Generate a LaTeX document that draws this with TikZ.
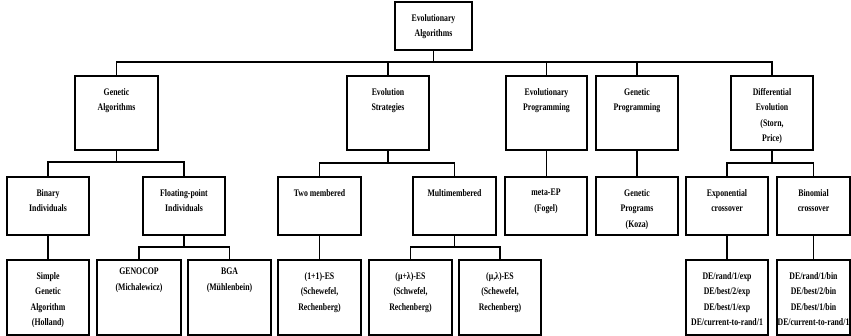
\documentclass[tikz,border=0pt]{standalone}
\usepackage{fontspec}
\setmainfont{Liberation Serif}[FakeStretch=0.78]
\usetikzlibrary{positioning,calc}
\tikzset{
  boxnode/.style={draw, line width=1.5pt, rectangle, inner sep=0pt, outer sep=0pt},
  txtnode/.style={anchor=north, inner sep=0pt, align=center, font=\fontsize{10}{15.5}\selectfont\bfseries},
  conn/.style={line width=1.5pt}
}
% #1 name, #2 x1, #3 y1, #4 x2, #5 y2, #6 text options, #7 text
\newcommand\mkbox[7]{%
  \node[boxnode, minimum width={#4-#2}, minimum height={#5-#3}] (#1) at ({(#2+#4)/2},{(#3+#5)/2}) {};
  \node[txtnode,#6] (#1-t) at ($(#1.north)+(0,12)$) {#7};
}
\begin{document}
\begin{tikzpicture}[x=1pt,y=-1pt]
\useasboundingbox (0,0) rectangle (851,336);
\fill[white] (0,0) rectangle (851,336);
% top
\mkbox{top}{395}{2}{472}{50}{}{Evolutionary\\Algorithms}
% level 2
\mkbox{ga}{75}{76}{158}{150}{}{Genetic\\Algorithms}
\mkbox{es}{347}{76}{429}{150}{}{Evolution\\Strategies}
\mkbox{ep}{506}{76}{587}{150}{}{Evolutionary\\Programming}
\mkbox{gp}{596}{76}{678}{150}{}{Genetic\\Programming}
\mkbox{de}{731}{76}{813}{150}{}{Differential\\Evolution\\(Storn,\\Price)}
% level 3
\mkbox{bin}{7}{177}{89}{235}{}{Binary\\Individuals}
\mkbox{flt}{143}{177}{225}{235}{}{Floating-point\\Individuals}
\mkbox{two}{278}{177}{361}{235}{}{Two membered}
\mkbox{multi}{413}{177}{496}{235}{}{Multimembered}
\mkbox{meta}{505}{177}{587}{235}{}{meta-EP\\(Fogel)}
\mkbox{gprog}{596}{177}{678}{235}{}{Genetic\\Programs\\(Koza)}
\mkbox{expc}{686}{177}{768}{235}{}{Exponential\\crossover}
\mkbox{binc}{777}{177}{850}{235}{}{Binomial\\crossover}
% level 4
\mkbox{sga}{7}{260}{89}{335}{}{Simple\\Genetic\\Algorithm\\(Holland)}
\mkbox{geno}{97}{260}{181}{335}{yshift=4pt}{GENOCOP\\(Michalewicz)}
\mkbox{bga}{188}{260}{271}{335}{yshift=4pt}{BGA\\(Mühlenbein)}
\mkbox{oneone}{278}{260}{361}{335}{}{(1+1)-ES\\(Schewefel,\\Rechenberg)}
\mkbox{mupl}{369}{260}{452}{335}{}{(μ+λ)-ES\\(Schwefel,\\Rechenberg)}
\mkbox{mucom}{459}{260}{541}{335}{}{(μ,λ)-ES\\(Schewefel,\\Rechenberg)}
\mkbox{dexp}{686}{260}{768}{335}{}{DE/rand/1/exp\\DE/best/2/exp\\DE/best/1/exp\\DE/current-to-rand/1}
\mkbox{dbin}{777}{260}{850}{335}{}{DE/rand/1/bin\\DE/best/2/bin\\DE/best/1/bin\\DE/current-to-rand/1}
% junctions
\coordinate (j0) at ($(top.south)+(0,12)$);
\coordinate (jga) at ($(ga.south)+(0,12)$);
\coordinate (jes) at ($(es.south)+(0,13)$);
\coordinate (jde) at ($(de.south)+(0,13)$);
\coordinate (jflt) at ($(flt.south)+(0,12)$);
\coordinate (jmul) at ($(multi.south)+(0,12)$);
% connectors
\draw[conn] (top.south) -- (j0);
\foreach \n in {ga,es,ep,gp,de} \draw[conn] (j0) -| (\n.north);
\draw[conn] (ga.south) -- (jga);
\foreach \n in {bin,flt} \draw[conn] (jga) -| (\n.north);
\draw[conn] (es.south) -- (jes);
\foreach \n in {two,multi} \draw[conn] (jes) -| (\n.north);
\draw[conn] (ep.south) -- (ep.south |- meta.north);
\draw[conn] (gp.south) -- (gp.south |- gprog.north);
\draw[conn] (de.south) -- (jde);
\foreach \n in {expc,binc} \draw[conn] (jde) -| (\n.north);
\draw[conn] (bin.south) -- (bin.south |- sga.north);
\draw[conn] (flt.south) -- (jflt);
\foreach \n in {geno,bga} \draw[conn] (jflt) -| (\n.north);
\draw[conn] (two.south) -- (two.south |- oneone.north);
\draw[conn] (multi.south) -- (jmul);
\foreach \n in {mupl,mucom} \draw[conn] (jmul) -| (\n.north);
\draw[conn] (expc.south) -- (expc.south |- dexp.north);
\draw[conn] (binc.south) -- (binc.south |- dbin.north);
\end{tikzpicture}
\end{document}
